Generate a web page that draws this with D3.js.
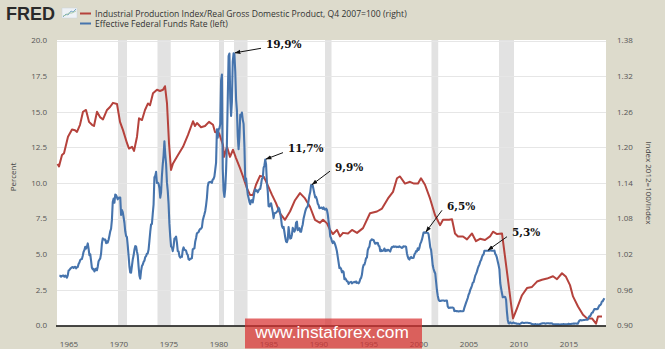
<!DOCTYPE html>
<html><head><meta charset="utf-8">
<script src="https://cdn.jsdelivr.net/npm/d3@7"></script>
<style>
html,body{margin:0;padding:0;background:#dddbcc;}
svg{display:block;}
</style></head>
<body>
<svg id="chart" width="665" height="349"></svg>
<script>
// ---------------- DATA ----------------
const legendLabels = ["Industrial Production Index/Real Gross Domestic Product, Q4 2007=100 (right)", "Effective Federal Funds Rate (left)"];
const leftTicks = [0, 2.5, 5, 7.5, 10, 12.5, 15, 17.5, 20];
const leftTickLabels = ["0.0","2.5","5.0","7.5","10.0","12.5","15.0","17.5","20.0"];
const rightTicks = [0.90, 0.96, 1.02, 1.08, 1.14, 1.20, 1.26, 1.32, 1.38];
const rightTickLabels = ["0.90","0.96","1.02","1.08","1.14","1.20","1.26","1.32","1.38"];
const xTicks = [1965, 1970, 1975, 1980, 1985, 1990, 1995, 2000, 2005, 2010, 2015];
const recessions = [[1969.9,1970.8],[1973.85,1975.17],[1980.0,1980.5],[1981.5,1982.85],[1990.6,1991.25],[2001.25,2001.92],[2008.0,2009.5]];

// Effective Federal Funds Rate, monthly from Jan 1964
const fedStartYear = 1964;
const fedFunds = [
3.48,3.48,3.43,3.47,3.50,3.50,3.42,3.50,3.45,3.36,3.52,3.85,
3.90,3.98,4.04,4.09,4.10,4.04,4.09,4.12,4.01,4.08,4.10,4.32,
4.42,4.60,4.65,4.67,4.90,5.17,5.30,5.53,5.40,5.53,5.76,5.40,
4.94,5.00,4.53,4.05,3.94,3.98,3.79,3.90,3.99,3.88,4.13,4.51,
4.61,4.71,5.05,5.76,6.11,6.07,6.02,6.03,5.78,5.91,5.82,6.02,
6.30,6.61,6.79,7.41,8.67,8.90,8.61,9.19,9.15,9.00,8.85,8.97,
8.98,8.98,7.76,8.10,7.95,7.61,7.21,6.61,6.29,6.20,5.60,4.90,
4.14,3.72,3.71,4.16,4.63,4.91,5.31,5.57,5.55,5.20,4.91,4.14,
3.50,3.29,3.83,4.17,4.27,4.46,4.55,4.80,4.87,5.04,5.06,5.33,
5.94,6.58,7.09,7.12,7.84,8.49,10.40,10.50,10.78,10.01,10.03,9.95,
9.65,8.97,9.35,10.51,11.31,11.93,12.92,12.01,11.34,10.06,9.45,8.53,
7.13,6.24,5.54,5.49,5.22,5.55,6.10,6.14,6.24,5.82,5.22,5.20,
4.87,4.77,4.84,4.82,5.29,5.48,5.31,5.29,5.25,5.03,4.95,4.65,
4.61,4.68,4.69,4.73,5.35,5.39,5.42,5.90,6.14,6.47,6.51,6.56,
6.70,6.78,6.79,6.89,7.36,7.60,7.81,8.04,8.45,8.96,9.76,10.03,
10.07,10.06,10.09,10.01,10.24,10.29,10.47,10.94,11.43,13.77,13.18,13.78,
13.82,14.13,17.19,17.61,10.98,9.47,9.03,9.61,10.87,12.81,15.85,18.90,
19.08,15.93,14.70,15.72,18.52,19.10,19.04,17.82,15.87,15.08,13.31,12.37,
13.22,14.78,14.68,14.94,14.45,14.15,12.59,10.12,10.31,9.71,9.20,8.95,
8.68,8.51,8.77,8.80,8.63,8.98,9.37,9.56,9.45,9.48,9.34,9.47,
9.56,9.59,9.91,10.29,10.32,11.06,11.23,11.64,11.30,9.99,9.43,8.38,
8.35,8.50,8.58,8.27,7.97,7.53,7.88,7.90,7.92,7.99,8.05,8.27,
8.14,7.86,7.48,6.99,6.85,6.92,6.56,6.17,5.89,5.85,6.04,6.91,
6.43,6.10,6.13,6.37,6.85,6.73,6.58,6.73,7.22,7.29,6.69,6.77,
6.83,6.58,6.58,6.87,7.09,7.51,7.75,8.01,8.19,8.30,8.35,8.76,
9.12,9.36,9.85,9.84,9.81,9.53,9.24,8.99,9.02,8.84,8.55,8.45,
8.23,8.24,8.28,8.26,8.18,8.29,8.15,8.13,8.20,8.11,7.81,7.31,
6.91,6.25,6.12,5.91,5.78,5.90,5.82,5.66,5.45,5.21,4.81,4.43,
4.03,4.06,3.98,3.73,3.82,3.76,3.25,3.30,3.22,3.10,3.09,2.92,
3.02,3.03,3.07,2.96,3.00,3.04,3.06,3.03,3.09,2.99,3.02,2.96,
3.05,3.25,3.34,3.56,4.01,4.25,4.26,4.47,4.73,4.76,5.29,5.45,
5.53,5.92,5.98,6.05,6.01,6.00,5.85,5.74,5.80,5.76,5.80,5.60,
5.56,5.22,5.31,5.22,5.24,5.27,5.40,5.22,5.30,5.24,5.31,5.29,
5.25,5.19,5.39,5.51,5.50,5.56,5.52,5.54,5.54,5.50,5.52,5.50,
5.56,5.51,5.49,5.45,5.49,5.56,5.54,5.55,5.51,5.07,4.83,4.68,
4.63,4.76,4.81,4.74,4.74,4.76,4.99,5.07,5.22,5.20,5.42,5.30,
5.45,5.73,5.85,6.02,6.27,6.53,6.54,6.50,6.52,6.51,6.51,6.40,
5.98,5.49,5.31,4.80,4.21,3.97,3.77,3.65,3.07,2.49,2.09,1.82,
1.73,1.74,1.73,1.75,1.75,1.75,1.73,1.74,1.75,1.75,1.34,1.24,
1.24,1.26,1.25,1.26,1.26,1.22,1.01,1.03,1.01,1.01,1.00,0.98,
1.00,1.01,1.00,1.00,1.00,1.03,1.26,1.43,1.61,1.76,1.93,2.16,
2.28,2.50,2.63,2.79,3.00,3.04,3.26,3.50,3.62,3.78,4.00,4.16,
4.29,4.49,4.59,4.79,4.94,4.99,5.24,5.25,5.25,5.25,5.25,5.24,
5.25,5.26,5.26,5.25,5.25,5.25,5.26,5.02,4.94,4.76,4.49,4.24,
3.94,2.98,2.61,2.28,1.98,2.00,2.01,2.00,1.81,0.97,0.39,0.16,
0.15,0.22,0.18,0.15,0.18,0.21,0.16,0.16,0.15,0.12,0.12,0.12,
0.11,0.13,0.16,0.20,0.20,0.18,0.18,0.19,0.19,0.19,0.19,0.18,
0.17,0.16,0.14,0.10,0.09,0.09,0.07,0.10,0.08,0.07,0.08,0.07,
0.08,0.10,0.13,0.14,0.16,0.16,0.16,0.13,0.14,0.16,0.16,0.16,
0.14,0.15,0.14,0.15,0.11,0.09,0.09,0.08,0.08,0.09,0.08,0.09,
0.07,0.07,0.08,0.09,0.09,0.10,0.09,0.09,0.09,0.09,0.09,0.12,
0.11,0.11,0.11,0.12,0.12,0.13,0.13,0.14,0.14,0.12,0.12,0.24,
0.34,0.38,0.36,0.37,0.37,0.38,0.39,0.40,0.40,0.40,0.41,0.54,
0.65,0.66,0.79,0.90,0.91,1.04,1.15,1.16,1.15,1.15,1.16,1.30,
1.41,1.42,1.51,1.69,1.70,1.82,1.91
];

// Industrial Production / Real GDP ratio (right axis)
const ipYears = [1963.85,1964.0,1964.3,1964.5,1964.9,1965.3,1965.6,1965.8,1966.1,1966.4,1966.7,1967.0,1967.3,1967.5,1967.8,1968.1,1968.4,1968.8,1969.1,1969.4,1969.8,1970.1,1970.4,1970.8,1971.0,1971.3,1971.5,1971.8,1972.0,1972.3,1972.6,1972.9,1973.1,1973.4,1973.8,1974.1,1974.4,1974.6,1974.8,1975.0,1975.2,1975.4,1975.9,1976.4,1976.9,1977.4,1977.6,1977.8,1978.2,1978.6,1979.0,1979.4,1979.6,1980.0,1980.4,1980.5,1980.8,1981.1,1981.4,1981.7,1982.1,1982.4,1982.8,1983.1,1983.4,1983.7,1984.1,1984.5,1984.8,1985.3,1985.7,1986.1,1986.6,1987.1,1987.6,1988.1,1988.6,1989.1,1989.6,1990.1,1990.4,1990.8,1991.1,1991.4,1991.8,1992.1,1992.4,1992.9,1993.3,1993.8,1994.4,1995.1,1995.8,1996.3,1996.9,1997.4,1997.8,1998.1,1998.6,1999.1,1999.5,1999.9,2000.2,2000.6,2001.1,2001.6,2002.1,2002.4,2003.0,2003.3,2003.6,2003.9,2004.4,2004.8,2005.3,2005.7,2006.1,2006.6,2007.1,2007.4,2007.8,2008.3,2008.6,2008.9,2009.2,2009.4,2009.8,2010.3,2010.8,2011.3,2011.8,2012.3,2012.8,2013.4,2013.8,2014.3,2014.7,2015.1,2015.4,2015.9,2016.4,2016.8,2017.3,2017.7,2017.9,2018.3];
const ipValues = [1.172,1.168,1.187,1.190,1.218,1.230,1.229,1.226,1.238,1.260,1.263,1.243,1.238,1.236,1.260,1.251,1.247,1.263,1.268,1.275,1.273,1.243,1.229,1.207,1.198,1.201,1.194,1.218,1.249,1.246,1.263,1.274,1.271,1.291,1.297,1.295,1.297,1.303,1.274,1.207,1.162,1.173,1.187,1.201,1.221,1.244,1.236,1.241,1.234,1.236,1.243,1.238,1.226,1.224,1.204,1.184,1.201,1.184,1.196,1.182,1.165,1.151,1.131,1.120,1.120,1.137,1.152,1.150,1.139,1.120,1.106,1.089,1.078,1.092,1.111,1.123,1.114,1.100,1.078,1.073,1.078,1.072,1.061,1.054,1.061,1.050,1.056,1.055,1.061,1.056,1.064,1.089,1.092,1.097,1.114,1.125,1.148,1.151,1.139,1.142,1.139,1.139,1.148,1.137,1.114,1.086,1.069,1.078,1.078,1.079,1.055,1.050,1.050,1.045,1.055,1.042,1.046,1.044,1.050,1.058,1.054,1.055,1.016,0.977,0.937,0.912,0.929,0.951,0.963,0.965,0.974,0.977,0.979,0.983,0.978,0.988,0.982,0.968,0.949,0.932,0.918,0.912,0.912,0.903,0.915,0.915];

// Annotations: [year, value, label]
const annoYears = [1981.5, 1984.6, 1989.2, 2000.6, 2006.8];
const annoValues = [19.1, 11.64, 9.85, 6.54, 5.25];
const annoLabels = ["19,9%", "11,7%", "9,9%", "6,5%", "5,3%"];

// ---------------- CHART ----------------
const W = 665, H = 349;
const M = {left: 57, right: 606, top: 40.5, bottom: 325.5};
const RED = "#b5423c", BLUE = "#4674ad";
const svg = d3.select("#chart");

svg.append("rect").attr("width", W).attr("height", H).attr("fill", "#dddbcc");

const x = d3.scaleLinear().domain([1963.8, 2018.7]).range([M.left, M.right]);
const yL = d3.scaleLinear().domain([0, 20]).range([M.bottom, M.top]);
const yR = d3.scaleLinear().domain([0.90, 1.38]).range([M.bottom, M.top]);

svg.append("rect").attr("x", M.left).attr("y", M.top - 0.5).attr("width", M.right - M.left)
  .attr("height", M.bottom - M.top + 0.5).attr("fill", "#ffffff");

// recessions
svg.append("g").selectAll("rect").data(recessions).join("rect")
  .attr("x", d => x(d[0])).attr("width", d => x(d[1]) - x(d[0]))
  .attr("y", M.top - 0.5).attr("height", M.bottom - M.top + 0.5).attr("fill", "#e2e2e2");

// gridlines
svg.append("g").selectAll("line").data(leftTicks.slice(1)).join("line")
  .attr("x1", M.left).attr("x2", M.right)
  .attr("y1", d => Math.round(yL(d)) + 0.5).attr("y2", d => Math.round(yL(d)) + 0.5)
  .attr("stroke", "#e6e6e6").attr("stroke-width", 1);

// lines
const fedData = fedFunds.map((v, i) => ({t: fedStartYear + i / 12 + 1/24, v}));
const ipData = ipYears.map((t, i) => ({t, v: ipValues[i]}));

svg.append("path").datum(ipData)
  .attr("d", d3.line().x(d => x(d.t)).y(d => yR(d.v)))
  .attr("fill", "none").attr("stroke", RED).attr("stroke-width", 2).attr("stroke-linejoin", "round");
svg.append("path").datum(fedData)
  .attr("d", d3.line().x(d => x(d.t)).y(d => yL(d.v)))
  .attr("fill", "none").attr("stroke", BLUE).attr("stroke-width", 2.1).attr("stroke-linejoin", "round");

// bottom axis line
svg.append("line").attr("x1", M.left - 1).attr("x2", M.right).attr("y1", M.bottom + 0.5).attr("y2", M.bottom + 0.5)
  .attr("stroke", "#111").attr("stroke-width", 1.5);

const tickFont = "'Open Sans', 'DejaVu Sans', sans-serif";
// left labels
svg.append("g").selectAll("text").data(leftTicks).join("text")
  .attr("x", 47).attr("y", d => yL(d)).attr("dy", "0.35em").attr("text-anchor", "end")
  .attr("font-family", tickFont).attr("font-size", 8).attr("fill", "#555")
  .text((d, i) => leftTickLabels[i]);
// right labels
svg.append("g").selectAll("text").data(rightTicks).join("text")
  .attr("x", 617).attr("y", d => yR(d)).attr("dy", "0.35em").attr("text-anchor", "start")
  .attr("font-family", tickFont).attr("font-size", 8).attr("fill", "#555")
  .text((d, i) => rightTickLabels[i]);
// x labels
svg.append("g").selectAll("text").data(xTicks).join("text")
  .attr("x", d => x(d)).attr("y", 344).attr("dy", "0.35em").attr("text-anchor", "middle")
  .attr("font-family", tickFont).attr("font-size", 8).attr("fill", "#555")
  .text(d => d);

// axis titles
svg.append("text").attr("transform", "translate(16,177) rotate(-90)").attr("text-anchor", "middle")
  .attr("font-family", tickFont).attr("font-size", 8).attr("fill", "#444").text("Percent");
svg.append("text").attr("transform", "translate(646,183) rotate(90)").attr("text-anchor", "middle")
  .attr("font-family", tickFont).attr("font-size", 8).attr("fill", "#444").text("Index 2012=100/Index");

// header: FRED logo + legend
svg.append("text").attr("x", 6).attr("y", 20).attr("font-family", "'Liberation Sans', Arial, sans-serif")
  .attr("font-weight", "bold").attr("font-size", 18).attr("fill", "#2a2a2a").text("FRED");
const icon = svg.append("g");
icon.append("rect").attr("x", 62).attr("y", 8).attr("width", 15).attr("height", 10).attr("fill", "#eef2f6").attr("stroke", "#c9d3dc").attr("stroke-width", 0.5);
icon.append("polyline").attr("points", "63,17 66,14 68,15 71,11 73,12 76,9").attr("fill", "none").attr("stroke", "#7aa6c8").attr("stroke-width", 1);
icon.append("polyline").attr("points", "63,16 66,15 69,13 72,13 76,11").attr("fill", "none").attr("stroke", "#9cc49a").attr("stroke-width", 0.8);

const legendColors = [RED, BLUE];
const lg = svg.append("g").selectAll("g").data(legendLabels).join("g")
  .attr("transform", (d, i) => `translate(0,${13.5 + i * 10})`);
lg.append("line").attr("x1", 80).attr("x2", 91).attr("y1", 0).attr("y2", 0)
  .attr("stroke", (d, i) => legendColors[i]).attr("stroke-width", 2);
lg.append("text").attr("x", 95).attr("y", 0).attr("dy", "0.35em")
  .attr("font-family", tickFont).attr("font-size", 8.6).attr("fill", "#333").text(d => d);

// annotations
const defs = svg.append("defs");
defs.append("marker").attr("id", "ah").attr("viewBox", "0 0 10 10").attr("refX", 9).attr("refY", 5)
  .attr("markerWidth", 6).attr("markerHeight", 6).attr("orient", "auto-start-reverse")
  .append("path").attr("d", "M0,1.5 L10,5 L0,8.5 Z").attr("fill", "#111");

const annoOffsets = [[27, -5], [18, -7], [19, -14], [17, -22], [20, -14]]; // arrow tail offsets
const ag = svg.append("g");
annoYears.forEach((t, i) => {
  const px = x(t), py = yL(annoValues[i]);
  const tx = px + annoOffsets[i][0], ty = py + annoOffsets[i][1];
  ag.append("line").attr("x1", tx).attr("y1", ty).attr("x2", px + 1).attr("y2", py - 0.5)
    .attr("stroke", "#111").attr("stroke-width", 1).attr("marker-end", "url(#ah)");
  ag.append("text").attr("x", tx + 5).attr("y", ty - 4).attr("dy", "0.35em")
    .attr("font-family", "'DejaVu Serif', serif").attr("font-weight", "bold").attr("font-size", 10.5)
    .attr("fill", "#111").text(annoLabels[i]);
});

// watermark (covers some axis labels, as in the reference)
svg.append("rect").attr("x", 245).attr("y", 318.5).attr("width", 177).attr("height", 30)
  .attr("fill", "rgba(216,48,48,0.72)");
svg.append("text").attr("x", 332).attr("y", 338).attr("text-anchor", "middle")
  .attr("font-family", "'Liberation Sans', Arial, sans-serif").attr("font-size", 17.3)
  .attr("fill", "#ffffff").text("www.instaforex.com");
</script>
</body></html>
